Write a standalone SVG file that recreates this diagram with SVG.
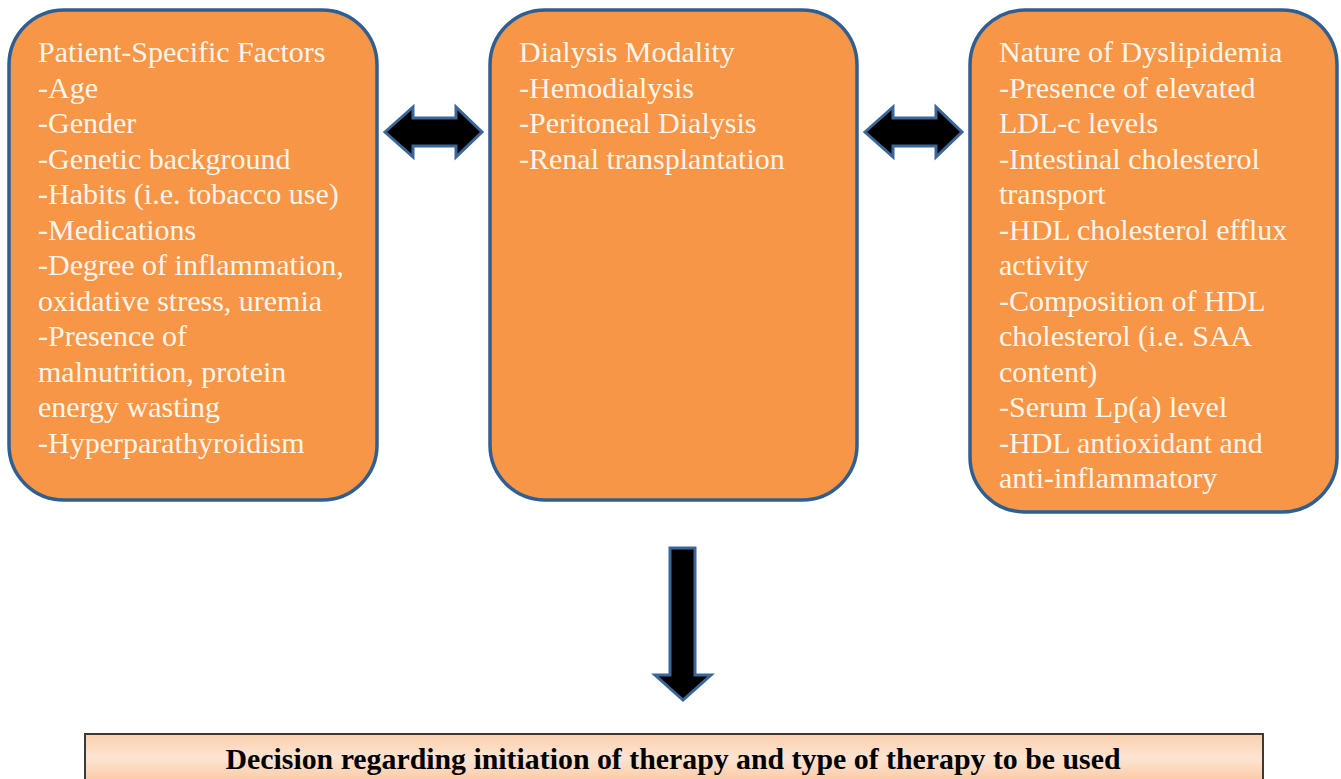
<svg xmlns="http://www.w3.org/2000/svg" width="1341" height="779" viewBox="0 0 1341 779">
<defs>
<style>
.box{fill:#f79646;stroke:#2f5f92;stroke-width:3.5}
.t{font-family:'Liberation Serif','Times New Roman',serif;font-size:30px;fill:#fff5ec}
.arr{fill:#000;stroke:#3b6699;stroke-width:3;stroke-linejoin:miter}
.bt{font-family:'Liberation Serif','Times New Roman',serif;font-size:30px;font-weight:bold;fill:#000}
</style>
<linearGradient id="g" x1="0" y1="0" x2="0" y2="1">
<stop offset="0" stop-color="#fbd0ad"/>
<stop offset="0.4" stop-color="#fde4d2"/>
<stop offset="0.75" stop-color="#fbcdaa"/>
<stop offset="1" stop-color="#fde0e0"/>
</linearGradient>
</defs>
<rect width="1341" height="779" fill="#fff"/>
<g id="patient">
<rect class="box" x="9" y="10" width="368" height="490" rx="55" ry="55"/>
<text class="t"><tspan x="38" y="62">Patient-Specific Factors</tspan><tspan x="38" y="98">-Age</tspan><tspan x="38" y="133">-Gender</tspan><tspan x="38" y="169">-Genetic background</tspan><tspan x="38" y="204">-Habits (i.e. tobacco use)</tspan><tspan x="38" y="240">-Medications</tspan><tspan x="38" y="275">-Degree of inflammation,</tspan><tspan x="38" y="311">oxidative stress, uremia</tspan><tspan x="38" y="346">-Presence of</tspan><tspan x="38" y="382">malnutrition, protein</tspan><tspan x="38" y="417">energy wasting</tspan><tspan x="38" y="453">-Hyperparathyroidism</tspan></text>
</g>
<g id="dialysis">
<rect class="box" x="490" y="10" width="367" height="490" rx="55" ry="55"/>
<text class="t"><tspan x="519" y="62">Dialysis Modality</tspan><tspan x="519" y="98">-Hemodialysis</tspan><tspan x="519" y="133">-Peritoneal Dialysis</tspan><tspan x="519" y="169">-Renal transplantation</tspan></text>
</g>
<g id="dyslipidemia">
<rect class="box" x="970" y="10" width="367" height="502" rx="55" ry="55"/>
<text class="t"><tspan x="999" y="62">Nature of Dyslipidemia</tspan><tspan x="999" y="98">-Presence of elevated</tspan><tspan x="999" y="133">LDL-c levels</tspan><tspan x="999" y="169">-Intestinal cholesterol</tspan><tspan x="999" y="204">transport</tspan><tspan x="999" y="240">-HDL cholesterol efflux</tspan><tspan x="999" y="275">activity</tspan><tspan x="999" y="311">-Composition of HDL</tspan><tspan x="999" y="346">cholesterol (i.e. SAA</tspan><tspan x="999" y="382">content)</tspan><tspan x="999" y="417">-Serum Lp(a) level</tspan><tspan x="999" y="453">-HDL antioxidant and</tspan><tspan x="999" y="488">anti-inflammatory</tspan></text>
</g>
<g id="decision">
<rect x="85" y="734" width="1178" height="60" fill="url(#g)" stroke="#3a3a3a" stroke-width="2"/>
<text class="bt" x="673" y="769" text-anchor="middle" textLength="895" lengthAdjust="spacingAndGlyphs">Decision regarding initiation of therapy and type of therapy to be used</text>
</g>
<g id="connectors">
<path class="arr" d="M385,132 L413,107 L413,118 L456,118 L456,107 L482,132 L456,157 L456,146 L413,146 L413,157 Z"/>
<path class="arr" d="M865,132 L893,107 L893,118 L936,118 L936,107 L962,132 L936,157 L936,146 L893,146 L893,157 Z"/>
<path class="arr" d="M670,548 L695,548 L695,675 L711,675 L683,700 L655,675 L670,675 Z"/>
</g>
</svg>
